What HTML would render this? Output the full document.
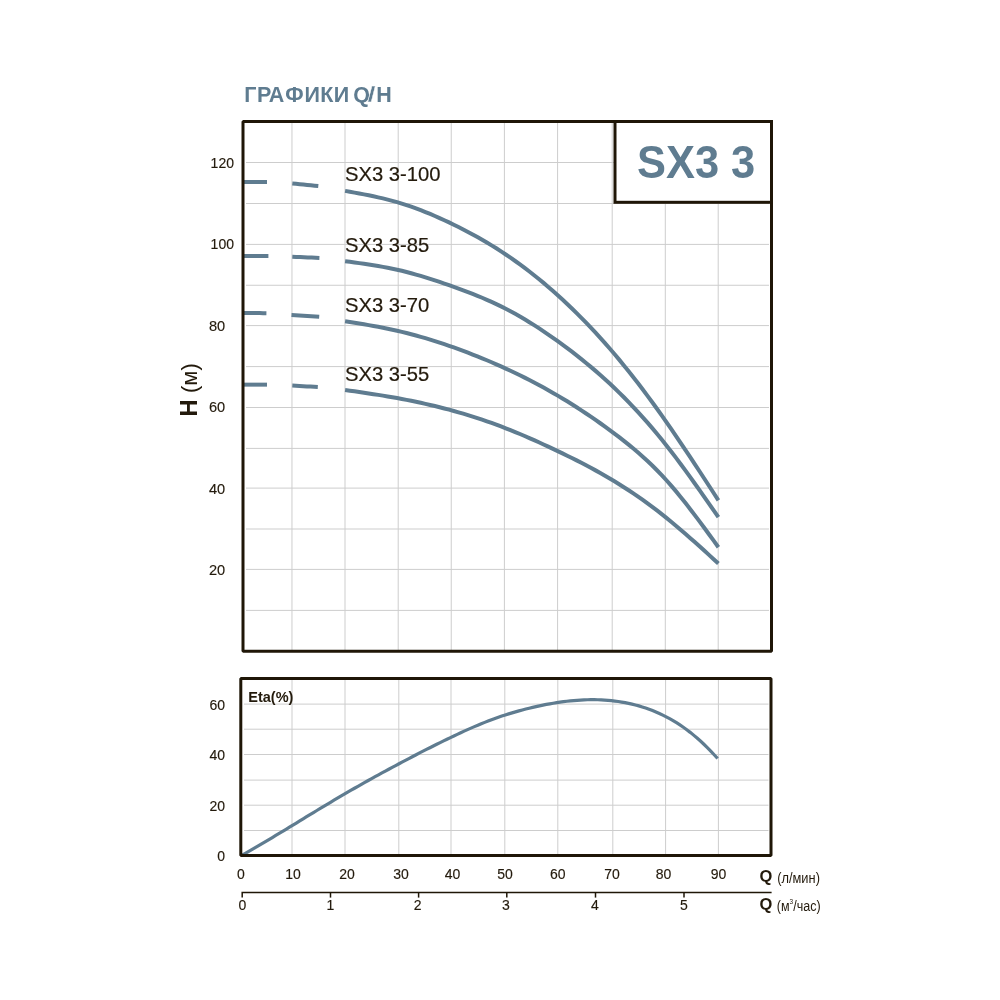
<!DOCTYPE html>
<html><head><meta charset="utf-8"><style>
html,body{margin:0;padding:0;background:#fff;}
body{width:1000px;height:1000px;position:relative;overflow:hidden;font-family:"Liberation Sans",Arial,sans-serif;}
svg{position:absolute;left:0;top:0;will-change:transform;}
</style></head><body>
<svg width="1000" height="1000" viewBox="0 0 1000 1000">

<g stroke="#cdcdcd" stroke-width="1" fill="none">
<line x1="291.96" y1="121.5" x2="291.96" y2="651.3"/>
<line x1="345.0" y1="121.5" x2="345.0" y2="651.3"/>
<line x1="398.2" y1="121.5" x2="398.2" y2="651.3"/>
<line x1="451.24" y1="121.5" x2="451.24" y2="651.3"/>
<line x1="504.4" y1="121.5" x2="504.4" y2="651.3"/>
<line x1="557.6" y1="121.5" x2="557.6" y2="651.3"/>
<line x1="612.2" y1="121.5" x2="612.2" y2="651.3"/>
<line x1="665.3" y1="121.5" x2="665.3" y2="651.3"/>
<line x1="718.2" y1="121.5" x2="718.2" y2="651.3"/>
<line x1="246" y1="162.5" x2="769" y2="162.5"/>
<line x1="246" y1="203.5" x2="769" y2="203.5"/>
<line x1="246" y1="244.4" x2="769" y2="244.4"/>
<line x1="246" y1="285.25" x2="769" y2="285.25"/>
<line x1="246" y1="325.6" x2="769" y2="325.6"/>
<line x1="246" y1="366.6" x2="769" y2="366.6"/>
<line x1="246" y1="407.5" x2="769" y2="407.5"/>
<line x1="246" y1="448.4" x2="769" y2="448.4"/>
<line x1="246" y1="488.1" x2="769" y2="488.1"/>
<line x1="246" y1="529.0" x2="769" y2="529.0"/>
<line x1="246" y1="569.4" x2="769" y2="569.4"/>
<line x1="246" y1="610.4" x2="769" y2="610.4"/>
<line x1="292.0" y1="678.5" x2="292.0" y2="855.6"/>
<line x1="345.0" y1="678.5" x2="345.0" y2="855.6"/>
<line x1="398.8" y1="678.5" x2="398.8" y2="855.6"/>
<line x1="451.0" y1="678.5" x2="451.0" y2="855.6"/>
<line x1="504.8" y1="678.5" x2="504.8" y2="855.6"/>
<line x1="557.8" y1="678.5" x2="557.8" y2="855.6"/>
<line x1="612.8" y1="678.5" x2="612.8" y2="855.6"/>
<line x1="665.6" y1="678.5" x2="665.6" y2="855.6"/>
<line x1="718.4" y1="678.5" x2="718.4" y2="855.6"/>
<line x1="244" y1="704.1" x2="768.5" y2="704.1"/>
<line x1="244" y1="729.2" x2="768.5" y2="729.2"/>
<line x1="244" y1="754.5" x2="768.5" y2="754.5"/>
<line x1="244" y1="780.1" x2="768.5" y2="780.1"/>
<line x1="244" y1="805.2" x2="768.5" y2="805.2"/>
<line x1="244" y1="830.5" x2="768.5" y2="830.5"/>
</g>
<g stroke="#5f7c90" stroke-width="4" fill="none" stroke-linecap="butt" stroke-linejoin="round">
<path d="M243.00 182.00 L246.43 182.00 L249.86 182.00 L253.29 182.00 L256.71 182.00 L260.14 182.00 L263.57 182.00 L267.00 182.00"/>
<path d="M292.30 183.50 L296.01 183.86 L299.73 184.21 L303.44 184.57 L307.16 184.93 L310.87 185.29 L314.59 185.64 L318.30 186.00"/>
<path d="M345.10 190.90 L349.83 191.75 L354.55 192.61 L359.28 193.48 L364.00 194.38 L368.73 195.32 L373.45 196.30 L378.18 197.33 L382.90 198.42 L387.63 199.58 L392.35 200.82 L397.08 202.14 L401.80 203.56 L406.53 205.08 L411.25 206.68 L415.98 208.38 L420.71 210.16 L425.43 212.02 L430.16 213.96 L434.88 215.97 L439.61 218.06 L444.33 220.21 L449.06 222.43 L453.78 224.70 L458.51 227.04 L463.23 229.45 L467.96 231.92 L472.68 234.46 L477.41 237.07 L482.13 239.76 L486.86 242.53 L491.58 245.39 L496.31 248.32 L501.04 251.35 L505.76 254.47 L510.49 257.69 L515.21 261.00 L519.94 264.41 L524.66 267.91 L529.39 271.52 L534.11 275.22 L538.84 279.02 L543.56 282.91 L548.29 286.91 L553.01 291.01 L557.74 295.22 L562.46 299.52 L567.19 303.93 L571.92 308.44 L576.64 313.06 L581.37 317.79 L586.09 322.62 L590.82 327.57 L595.54 332.63 L600.27 337.80 L604.99 343.09 L609.72 348.50 L614.44 354.02 L619.17 359.66 L623.89 365.41 L628.62 371.28 L633.34 377.26 L638.07 383.35 L642.79 389.55 L647.52 395.86 L652.25 402.27 L656.97 408.78 L661.70 415.39 L666.42 422.10 L671.15 428.91 L675.87 435.80 L680.60 442.77 L685.32 449.81 L690.05 456.91 L694.77 464.06 L699.50 471.26 L704.22 478.49 L708.95 485.74 L713.67 493.02 L718.40 500.30"/>
<path d="M243.00 256.00 L246.63 256.00 L250.26 256.00 L253.89 256.00 L257.51 256.00 L261.14 256.00 L264.77 256.00 L268.40 256.00"/>
<path d="M292.30 256.80 L296.17 256.96 L300.04 257.11 L303.91 257.27 L307.79 257.43 L311.66 257.59 L315.53 257.74 L319.40 257.90"/>
<path d="M345.10 261.20 L349.83 261.83 L354.55 262.47 L359.28 263.13 L364.00 263.80 L368.73 264.51 L373.45 265.25 L378.18 266.03 L382.90 266.86 L387.63 267.75 L392.35 268.70 L397.08 269.72 L401.80 270.82 L406.53 272.00 L411.25 273.25 L415.98 274.56 L420.71 275.94 L425.43 277.37 L430.16 278.85 L434.88 280.38 L439.61 281.96 L444.33 283.57 L449.06 285.21 L453.78 286.88 L458.51 288.58 L463.23 290.32 L467.96 292.09 L472.68 293.92 L477.41 295.81 L482.13 297.76 L486.86 299.79 L491.58 301.89 L496.31 304.08 L501.04 306.36 L505.76 308.75 L510.49 311.24 L515.21 313.83 L519.94 316.51 L524.66 319.30 L529.39 322.17 L534.11 325.14 L538.84 328.19 L543.56 331.32 L548.29 334.53 L553.01 337.81 L557.74 341.17 L562.46 344.60 L567.19 348.10 L571.92 351.68 L576.64 355.34 L581.37 359.09 L586.09 362.93 L590.82 366.85 L595.54 370.88 L600.27 375.01 L604.99 379.24 L609.72 383.58 L614.44 388.03 L619.17 392.60 L623.89 397.29 L628.62 402.11 L633.34 407.05 L638.07 412.12 L642.79 417.32 L647.52 422.65 L652.25 428.13 L656.97 433.74 L661.70 439.51 L666.42 445.42 L671.15 451.47 L675.87 457.66 L680.60 463.97 L685.32 470.39 L690.05 476.91 L694.77 483.50 L699.50 490.16 L704.22 496.87 L708.95 503.63 L713.67 510.41 L718.40 517.20"/>
<path d="M243.00 312.90 L246.34 312.94 L249.69 312.99 L253.03 313.03 L256.37 313.07 L259.71 313.11 L263.06 313.16 L266.40 313.20"/>
<path d="M291.50 314.90 L295.46 315.17 L299.41 315.44 L303.37 315.71 L307.33 315.99 L311.29 316.26 L315.24 316.53 L319.20 316.80"/>
<path d="M345.10 321.20 L349.83 321.96 L354.55 322.73 L359.28 323.50 L364.00 324.29 L368.73 325.11 L373.45 325.95 L378.18 326.82 L382.90 327.72 L387.63 328.67 L392.35 329.67 L397.08 330.72 L401.80 331.83 L406.53 332.99 L411.25 334.21 L415.98 335.49 L420.71 336.82 L425.43 338.20 L430.16 339.63 L434.88 341.11 L439.61 342.63 L444.33 344.20 L449.06 345.82 L453.78 347.48 L458.51 349.17 L463.23 350.91 L467.96 352.70 L472.68 354.52 L477.41 356.39 L482.13 358.31 L486.86 360.27 L491.58 362.27 L496.31 364.33 L501.04 366.42 L505.76 368.57 L510.49 370.76 L515.21 373.00 L519.94 375.30 L524.66 377.64 L529.39 380.04 L534.11 382.49 L538.84 385.00 L543.56 387.57 L548.29 390.20 L553.01 392.89 L557.74 395.64 L562.46 398.46 L567.19 401.33 L571.92 404.27 L576.64 407.28 L581.37 410.35 L586.09 413.48 L590.82 416.67 L595.54 419.93 L600.27 423.26 L604.99 426.64 L609.72 430.09 L614.44 433.60 L619.17 437.18 L623.89 440.85 L628.62 444.62 L633.34 448.50 L638.07 452.52 L642.79 456.68 L647.52 461.01 L652.25 465.51 L656.97 470.21 L661.70 475.11 L666.42 480.24 L671.15 485.59 L675.87 491.16 L680.60 496.91 L685.32 502.83 L690.05 508.90 L694.77 515.09 L699.50 521.38 L704.22 527.77 L708.95 534.21 L713.67 540.69 L718.40 547.20"/>
<path d="M243.00 384.65 L246.43 384.65 L249.86 384.65 L253.29 384.65 L256.71 384.65 L260.14 384.65 L263.57 384.65 L267.00 384.65"/>
<path d="M292.30 385.60 L295.94 385.80 L299.59 386.00 L303.23 386.20 L306.87 386.40 L310.51 386.60 L314.16 386.80 L317.80 387.00"/>
<path d="M345.10 390.00 L349.83 390.67 L354.55 391.35 L359.28 392.04 L364.00 392.73 L368.73 393.43 L373.45 394.15 L378.18 394.89 L382.90 395.65 L387.63 396.43 L392.35 397.24 L397.08 398.08 L401.80 398.95 L406.53 399.86 L411.25 400.80 L415.98 401.77 L420.71 402.79 L425.43 403.84 L430.16 404.93 L434.88 406.06 L439.61 407.23 L444.33 408.44 L449.06 409.69 L453.78 410.99 L458.51 412.32 L463.23 413.70 L467.96 415.13 L472.68 416.60 L477.41 418.12 L482.13 419.69 L486.86 421.31 L491.58 422.97 L496.31 424.68 L501.04 426.45 L505.76 428.27 L510.49 430.14 L515.21 432.05 L519.94 434.02 L524.66 436.03 L529.39 438.08 L534.11 440.17 L538.84 442.29 L543.56 444.45 L548.29 446.64 L553.01 448.87 L557.74 451.11 L562.46 453.39 L567.19 455.69 L571.92 458.03 L576.64 460.40 L581.37 462.82 L586.09 465.28 L590.82 467.80 L595.54 470.37 L600.27 473.00 L604.99 475.69 L609.72 478.46 L614.44 481.30 L619.17 484.21 L623.89 487.20 L628.62 490.27 L633.34 493.43 L638.07 496.66 L642.79 499.98 L647.52 503.39 L652.25 506.88 L656.97 510.46 L661.70 514.14 L666.42 517.90 L671.15 521.76 L675.87 525.69 L680.60 529.71 L685.32 533.79 L690.05 537.92 L694.77 542.11 L699.50 546.34 L704.22 550.60 L708.95 554.89 L713.67 559.19 L718.40 563.50"/>
</g>
<path d="M241.50 855.50 L244.93 853.57 L248.35 851.61 L251.78 849.64 L255.20 847.65 L258.63 845.65 L262.05 843.64 L265.48 841.61 L268.90 839.57 L272.33 837.53 L275.75 835.47 L279.18 833.41 L282.60 831.34 L286.03 829.26 L289.45 827.18 L292.88 825.09 L296.30 823.01 L299.73 820.92 L303.15 818.83 L306.58 816.74 L310.00 814.66 L313.43 812.58 L316.85 810.50 L320.28 808.43 L323.70 806.36 L327.13 804.31 L330.55 802.26 L333.98 800.22 L337.41 798.19 L340.83 796.17 L344.26 794.17 L347.68 792.18 L351.11 790.20 L354.53 788.24 L357.96 786.29 L361.38 784.35 L364.81 782.43 L368.23 780.52 L371.66 778.62 L375.08 776.72 L378.51 774.84 L381.93 772.97 L385.36 771.11 L388.78 769.26 L392.21 767.42 L395.63 765.58 L399.06 763.75 L402.48 761.93 L405.91 760.12 L409.33 758.31 L412.76 756.51 L416.18 754.73 L419.61 752.95 L423.03 751.19 L426.46 749.44 L429.88 747.70 L433.31 745.97 L436.74 744.26 L440.16 742.56 L443.59 740.88 L447.01 739.21 L450.44 737.57 L453.86 735.94 L457.29 734.33 L460.71 732.74 L464.14 731.17 L467.56 729.63 L470.99 728.12 L474.41 726.64 L477.84 725.19 L481.26 723.77 L484.69 722.39 L488.11 721.05 L491.54 719.74 L494.96 718.48 L498.39 717.27 L501.81 716.10 L505.24 714.97 L508.66 713.89 L512.09 712.85 L515.51 711.85 L518.94 710.89 L522.36 709.96 L525.79 709.06 L529.22 708.20 L532.64 707.38 L536.07 706.59 L539.49 705.83 L542.92 705.12 L546.34 704.44 L549.77 703.81 L553.19 703.21 L556.62 702.66 L560.04 702.15 L563.47 701.68 L566.89 701.26 L570.32 700.88 L573.74 700.55 L577.17 700.28 L580.59 700.05 L584.02 699.88 L587.44 699.76 L590.87 699.70 L594.29 699.70 L597.72 699.76 L601.14 699.89 L604.57 700.08 L607.99 700.33 L611.42 700.65 L614.84 701.05 L618.27 701.51 L621.69 702.05 L625.12 702.66 L628.55 703.35 L631.97 704.12 L635.40 704.97 L638.82 705.90 L642.25 706.92 L645.67 708.03 L649.10 709.24 L652.52 710.55 L655.95 711.96 L659.37 713.47 L662.80 715.09 L666.22 716.82 L669.65 718.67 L673.07 720.64 L676.50 722.73 L679.92 724.94 L683.35 727.29 L686.77 729.76 L690.20 732.37 L693.62 735.12 L697.05 738.01 L700.47 741.05 L703.90 744.24 L707.32 747.57 L710.75 751.07 L714.17 754.72 L717.60 758.54" stroke="#5f7c90" stroke-width="3.2" fill="none"/>
<rect x="243.0" y="121.5" width="528.5" height="529.8" fill="none" stroke="#1f1607" stroke-width="3" stroke-linejoin="bevel"/>
<rect x="240.8" y="678.5" width="530.2" height="177.10000000000002" fill="none" stroke="#1f1607" stroke-width="3" stroke-linejoin="bevel"/>
<rect x="615" y="121.5" width="156.5" height="80.8" fill="#fff" stroke="#1f1607" stroke-width="3"/>
<text transform="translate(696.1 177.5) scale(0.955 1)" text-anchor="middle" font-family="Liberation Sans, Arial, sans-serif" font-weight="bold" font-size="45.5" fill="#5f7c90">SX3 3</text>
<text transform="translate(0 101.7) scale(1 1.055)" x="244.2 257.0 268.7 285.3 304.4 320.3 333.7 347 353.2" y="0" font-family="Liberation Sans, Arial, sans-serif" font-weight="bold" font-size="21.5" fill="#5f7c90">ГРАФИКИ Q<tspan x="376.2">H</tspan></text>
<text transform="translate(367.6 101.7) scale(1.35 1.055)" x="0" y="0" font-family="Liberation Sans, Arial, sans-serif" font-weight="bold" font-size="21.5" fill="#5f7c90" stroke="#fff" stroke-width="0.35" paint-order="fill">/</text>
<g font-family="Liberation Sans, Arial, sans-serif" font-size="20.2" fill="#231a0c" stroke="#231a0c" stroke-width="0.2">
<text transform="translate(345 181) scale(1 1.04)">SX3 3-100</text>
<text transform="translate(345 251.9) scale(1 1.04)">SX3 3-85</text>
<text transform="translate(345 311.7) scale(1 1.04)">SX3 3-70</text>
<text transform="translate(345 381.3) scale(1 1.04)">SX3 3-55</text>
</g>
<g font-family="Liberation Sans, Arial, sans-serif" font-size="14" fill="#231a0c" stroke="#231a0c" stroke-width="0.15">
<g font-size="14.6">
<text x="210.6" y="167.6" font-size="14">120</text>
<text x="210.6" y="248.7" font-size="14">100</text>
<text x="209.0" y="330.7">80</text>
<text x="209.0" y="411.7">60</text>
<text x="209.0" y="493.5">40</text>
<text x="209.0" y="574.7">20</text>
</g>
<g text-anchor="end">
<text x="225" y="710">60</text>
<text x="225" y="759.8">40</text>
<text x="225" y="810.7">20</text>
<text x="225" y="860.7">0</text>
</g>
<g text-anchor="middle">
<text x="240.8" y="879.3">0</text>
<text x="293" y="879.3">10</text>
<text x="347" y="879.3">20</text>
<text x="401" y="879.3">30</text>
<text x="452.5" y="879.3">40</text>
<text x="505" y="879.3">50</text>
<text x="557.8" y="879.3">60</text>
<text x="612" y="879.3">70</text>
<text x="663.6" y="879.3">80</text>
<text x="718.6" y="879.3">90</text>
<text x="242.4" y="910">0</text>
<text x="330.5" y="910">1</text>
<text x="417.7" y="910">2</text>
<text x="505.9" y="910">3</text>
<text x="595" y="910">4</text>
<text x="684" y="910">5</text>
</g>
</g>
<text x="248.3" y="701.6" font-family="Liberation Sans, Arial, sans-serif" font-weight="bold" font-size="14.5" fill="#231a0c">Eta(%)</text>
<g stroke="#1f1607" stroke-width="1.5" fill="none">
<path d="M242.2 897.6 V892.5 H771.6"/>
<line x1="330.5" y1="892.5" x2="330.5" y2="897.6"/>
<line x1="418.6" y1="892.5" x2="418.6" y2="897.6"/>
<line x1="506.8" y1="892.5" x2="506.8" y2="897.6"/>
<line x1="595.5" y1="892.5" x2="595.5" y2="897.6"/>
<line x1="684" y1="892.5" x2="684" y2="897.6"/>
</g>
<g font-family="Liberation Sans, Arial, sans-serif" fill="#231a0c">
<text x="759.5" y="882.4" font-weight="bold" font-size="16.5">Q</text>
<text transform="translate(777.2 883.2) scale(0.88 1)" font-size="14.6">(л/мин)</text>
<text x="759.5" y="910" font-weight="bold" font-size="16.5">Q</text>
<text transform="translate(776.8 910.6) scale(0.86 1)" font-size="14.6">(м<tspan font-size="7.5" dy="-6.2">3</tspan><tspan dy="6.2">/час)</tspan></text>
</g>
<text transform="translate(197.0 416.6) rotate(-90)" font-family="Liberation Sans, Arial, sans-serif" font-size="23.5" font-weight="bold" fill="#231a0c">H</text>
<text transform="translate(196.6 393) rotate(-90)" font-family="Liberation Sans, Arial, sans-serif" font-size="22" fill="#231a0c">(м)</text>
</svg>
</body></html>
